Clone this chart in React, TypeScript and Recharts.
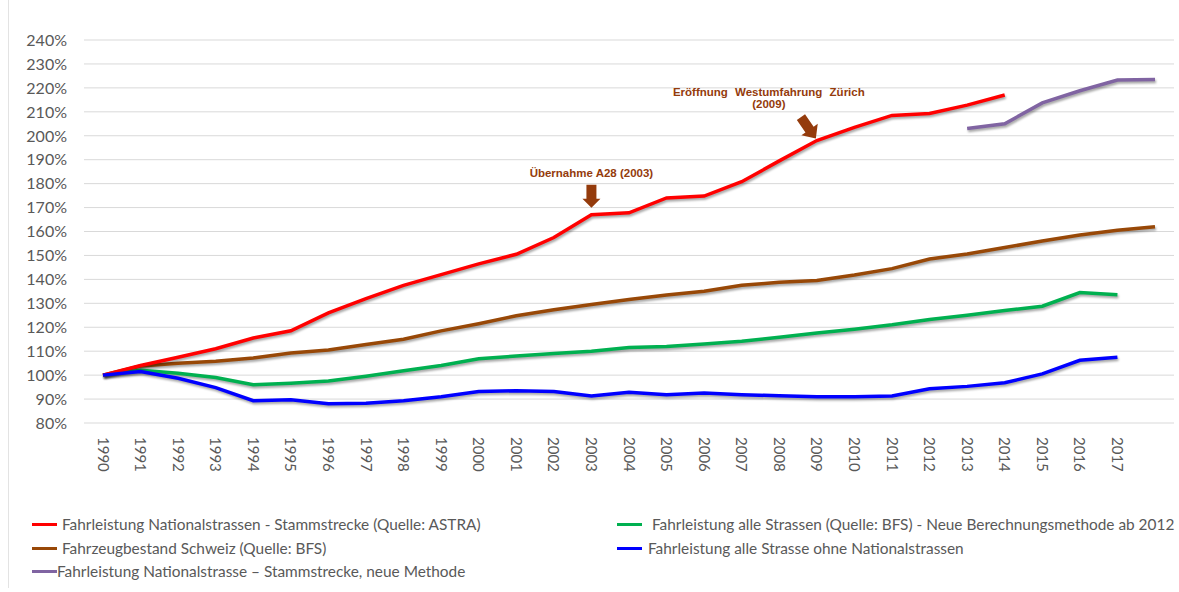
import React from 'react';
import { LineChart, Line, XAxis, YAxis, CartesianGrid, ReferenceDot } from 'recharts';

// Categories (last one is an unlabeled slot used by two series)
const years = ['1990','1991','1992','1993','1994','1995','1996','1997','1998','1999','2000','2001','2002','2003','2004','2005','2006','2007','2008','2009','2010','2011','2012','2013','2014','2015','2016','2017','2018'];
const yearLabels = ['1990','1991','1992','1993','1994','1995','1996','1997','1998','1999','2000','2001','2002','2003','2004','2005','2006','2007','2008','2009','2010','2011','2012','2013','2014','2015','2016','2017'];
const yTicks = [80, 90, 100, 110, 120, 130, 140, 150, 160, 170, 180, 190, 200, 210, 220, 230, 240];

// Series values (percent, 1990 = 100%)
const nationalAstra = [100, 104, 107.5, 111, 115.5, 118.5, 126, 132, 137.5, 142, 146.5, 150.5, 157.5, 167, 167.8, 174, 174.8, 180.8, 189.5, 198, 203.5, 208.5, 209.3, 212.8, 217, null, null, null, null];
const fahrzeugbestand = [100, 103.8, 105, 105.8, 107.2, 109.2, 110.5, 112.8, 115, 118.5, 121.5, 124.8, 127.3, 129.5, 131.6, 133.5, 135, 137.5, 138.8, 139.5, 141.8, 144.5, 148.5, 150.6, 153.3, 156, 158.5, 160.5, 162];
const nationalNeu = [null, null, null, null, null, null, null, null, null, null, null, null, null, null, null, null, null, null, null, null, null, null, null, 203, 205, 213.7, 218.8, 223.3, 223.5];
const alleStrassen = [100, 102, 100.8, 99, 96, 96.6, 97.5, 99.5, 101.8, 104, 106.8, 108, 109, 110, 111.5, 112, 113, 114.2, 115.8, 117.6, 119.2, 121, 123.2, 125, 127, 128.8, 134.5, 133.6, null];
const ohneNational = [100, 101.5, 98.7, 94.8, 89.3, 89.7, 88, 88.3, 89.3, 91, 93.2, 93.5, 93.2, 91.3, 92.8, 91.8, 92.5, 91.8, 91.4, 91, 91, 91.3, 94.3, 95.3, 96.8, 100.5, 106.2, 107.5, null];

// Legend
const seriesKeys = ['red', 'brown', 'purple', 'green', 'blue'];
const seriesNames = [
  'Fahrleistung Nationalstrassen - Stammstrecke (Quelle: ASTRA)',
  'Fahrzeugbestand Schweiz (Quelle: BFS)',
  'Fahrleistung Nationalstrasse \u2013 Stammstrecke, neue Methode',
  'Fahrleistung alle Strassen (Quelle: BFS) - Neue Berechnungsmethode ab 2012',
  'Fahrleistung alle Strasse ohne Nationalstrassen',
];
const seriesColors = ['#FF0000', '#984807', '#8064A2', '#00B050', '#0000FF'];

// Annotations
const annotation2003 = 'Übernahme A28 (2003)';
const annotation2009a = 'Eröffnung Westumfahrung Zürich';
const annotation2009b = '(2009)';
const annColor = '#943B0C';

const data = years.map((year, i) => ({
  year,
  red: nationalAstra[i],
  brown: fahrzeugbestand[i],
  purple: nationalNeu[i],
  green: alleStrassen[i],
  blue: ohneNational[i],
}));

const FONT = 'Lato, "Open Sans", sans-serif';
const TEXT = '#595959';
const ANN_FONT = '"Liberation Sans", Arial, sans-serif';

const XTick = (props: any) => {
  const { x, y, payload } = props;
  const label = yearLabels.includes(payload.value) ? payload.value : '';
  const ty = y + 14;
  return (
    <text x={x} y={ty} transform={`rotate(90, ${x}, ${ty})`} textAnchor="start" dy="0.36em" fontSize={15} fill={TEXT} fontFamily={FONT}>
      {label}
    </text>
  );
};

const YTick = (props: any) => {
  const { x, y, payload } = props;
  return (
    <text x={x - 17} y={y} textAnchor="end" dy="0.36em" fontSize={16} fill={TEXT} fontFamily={FONT}>
      {`${payload.value}%`}
    </text>
  );
};

const Ann2003 = (props: any) => {
  const { cx, cy } = props;
  if (cx == null || cy == null) return null;
  const pts = [
    [-5, -30], [5, -30], [5, -16], [9, -16], [0, -7], [-9, -16], [-5, -16],
  ].map(([dx, dy]) => `${cx + dx},${cy + dy}`).join(' ');
  return (
    <g>
      <text x={cx} y={cy - 38} textAnchor="middle" fontFamily={ANN_FONT} fontWeight="bold" fontSize={11.5} fill={annColor}>
        {annotation2003}
      </text>
      <polygon points={pts} fill={annColor} />
    </g>
  );
};

const Ann2009 = (props: any) => {
  const { cx, cy } = props;
  if (cx == null || cy == null) return null;
  const pts = [
    [-5, -26], [5, -26], [5, -11], [10, -11], [0, 0], [-10, -11], [-5, -11],
  ].map(([dx, dy]) => `${dx},${dy}`).join(' ');
  return (
    <g>
      <text x={cx - 48} y={cy - 45} textAnchor="middle" fontFamily={ANN_FONT} fontWeight="bold" fontSize={11.5} fill={annColor} wordSpacing={4}>
        {annotation2009a}
      </text>
      <text x={cx - 48} y={cy - 33} textAnchor="middle" fontFamily={ANN_FONT} fontWeight="bold" fontSize={11.5} fill={annColor}>
        {annotation2009b}
      </text>
      <g transform={`translate(${cx - 1},${cy - 2}) rotate(-35)`}>
        <polygon points={pts} fill={annColor} />
      </g>
    </g>
  );
};

const legendPos = [
  { left: 32, top: 524, gap: 5 },
  { left: 32, top: 548, gap: 5 },
  { left: 32, top: 571, gap: 0 },
  { left: 617, top: 524, gap: 10 },
  { left: 617, top: 548, gap: 6 },
];

export default function App() {
  return (
    <div style={{ position: 'absolute', left: 0, top: 0, width: 1179, height: 592, background: '#fff', overflow: 'hidden' }}>
      <style>{`.recharts-line-curve { filter: drop-shadow(1px 2px 1.2px rgba(0,0,0,0.35)); }`}</style>
      <div style={{ position: 'absolute', left: 8, top: 0, width: 1, height: 588, background: '#e3e3e3' }} />
      <div style={{ position: 'absolute', left: 0, top: 0 }}>
        <LineChart width={1179} height={480} data={data} margin={{ top: 40, right: 5, bottom: 7, left: 0 }}>
          <CartesianGrid vertical={false} stroke="#d9d9d9" strokeWidth={1} />
          <XAxis
            dataKey="year"
            interval={0}
            axisLine={false}
            tickLine={false}
            tickSize={0}
            tickMargin={0}
            height={50}
            padding={{ left: 19, right: 19 }}
            tick={<XTick />}
          />
          <YAxis
            domain={[80, 240]}
            ticks={yTicks}
            interval={0}
            axisLine={false}
            tickLine={false}
            tickSize={0}
            tickMargin={0}
            width={84}
            tick={<YTick />}
          />
          <Line type="linear" dataKey="brown" stroke={seriesColors[1]} strokeWidth={3.5} dot={false} activeDot={false} isAnimationActive={false} />
          <Line type="linear" dataKey="green" stroke={seriesColors[3]} strokeWidth={3.5} dot={false} activeDot={false} isAnimationActive={false} />
          <Line type="linear" dataKey="purple" stroke={seriesColors[2]} strokeWidth={3.5} dot={false} activeDot={false} isAnimationActive={false} />
          <Line type="linear" dataKey="red" stroke={seriesColors[0]} strokeWidth={3.5} dot={false} activeDot={false} isAnimationActive={false} />
          <Line type="linear" dataKey="blue" stroke={seriesColors[4]} strokeWidth={3.5} dot={false} activeDot={false} isAnimationActive={false} />
          <ReferenceDot x="2003" y={nationalAstra[13] as number} r={0} shape={<Ann2003 />} />
          <ReferenceDot x="2009" y={nationalAstra[19] as number} r={0} shape={<Ann2009 />} />
        </LineChart>
      </div>
      {seriesKeys.map((k, i) => (
        <div key={k} style={{ position: 'absolute', left: legendPos[i].left, top: legendPos[i].top - 10, height: 20, display: 'flex', alignItems: 'center', fontFamily: FONT, fontSize: 15.4, color: TEXT, whiteSpace: 'nowrap' }}>
          <div style={{ width: 25, height: 3, background: seriesColors[i], marginRight: legendPos[i].gap }} />
          <span>{seriesNames[i]}</span>
        </div>
      ))}
    </div>
  );
}
